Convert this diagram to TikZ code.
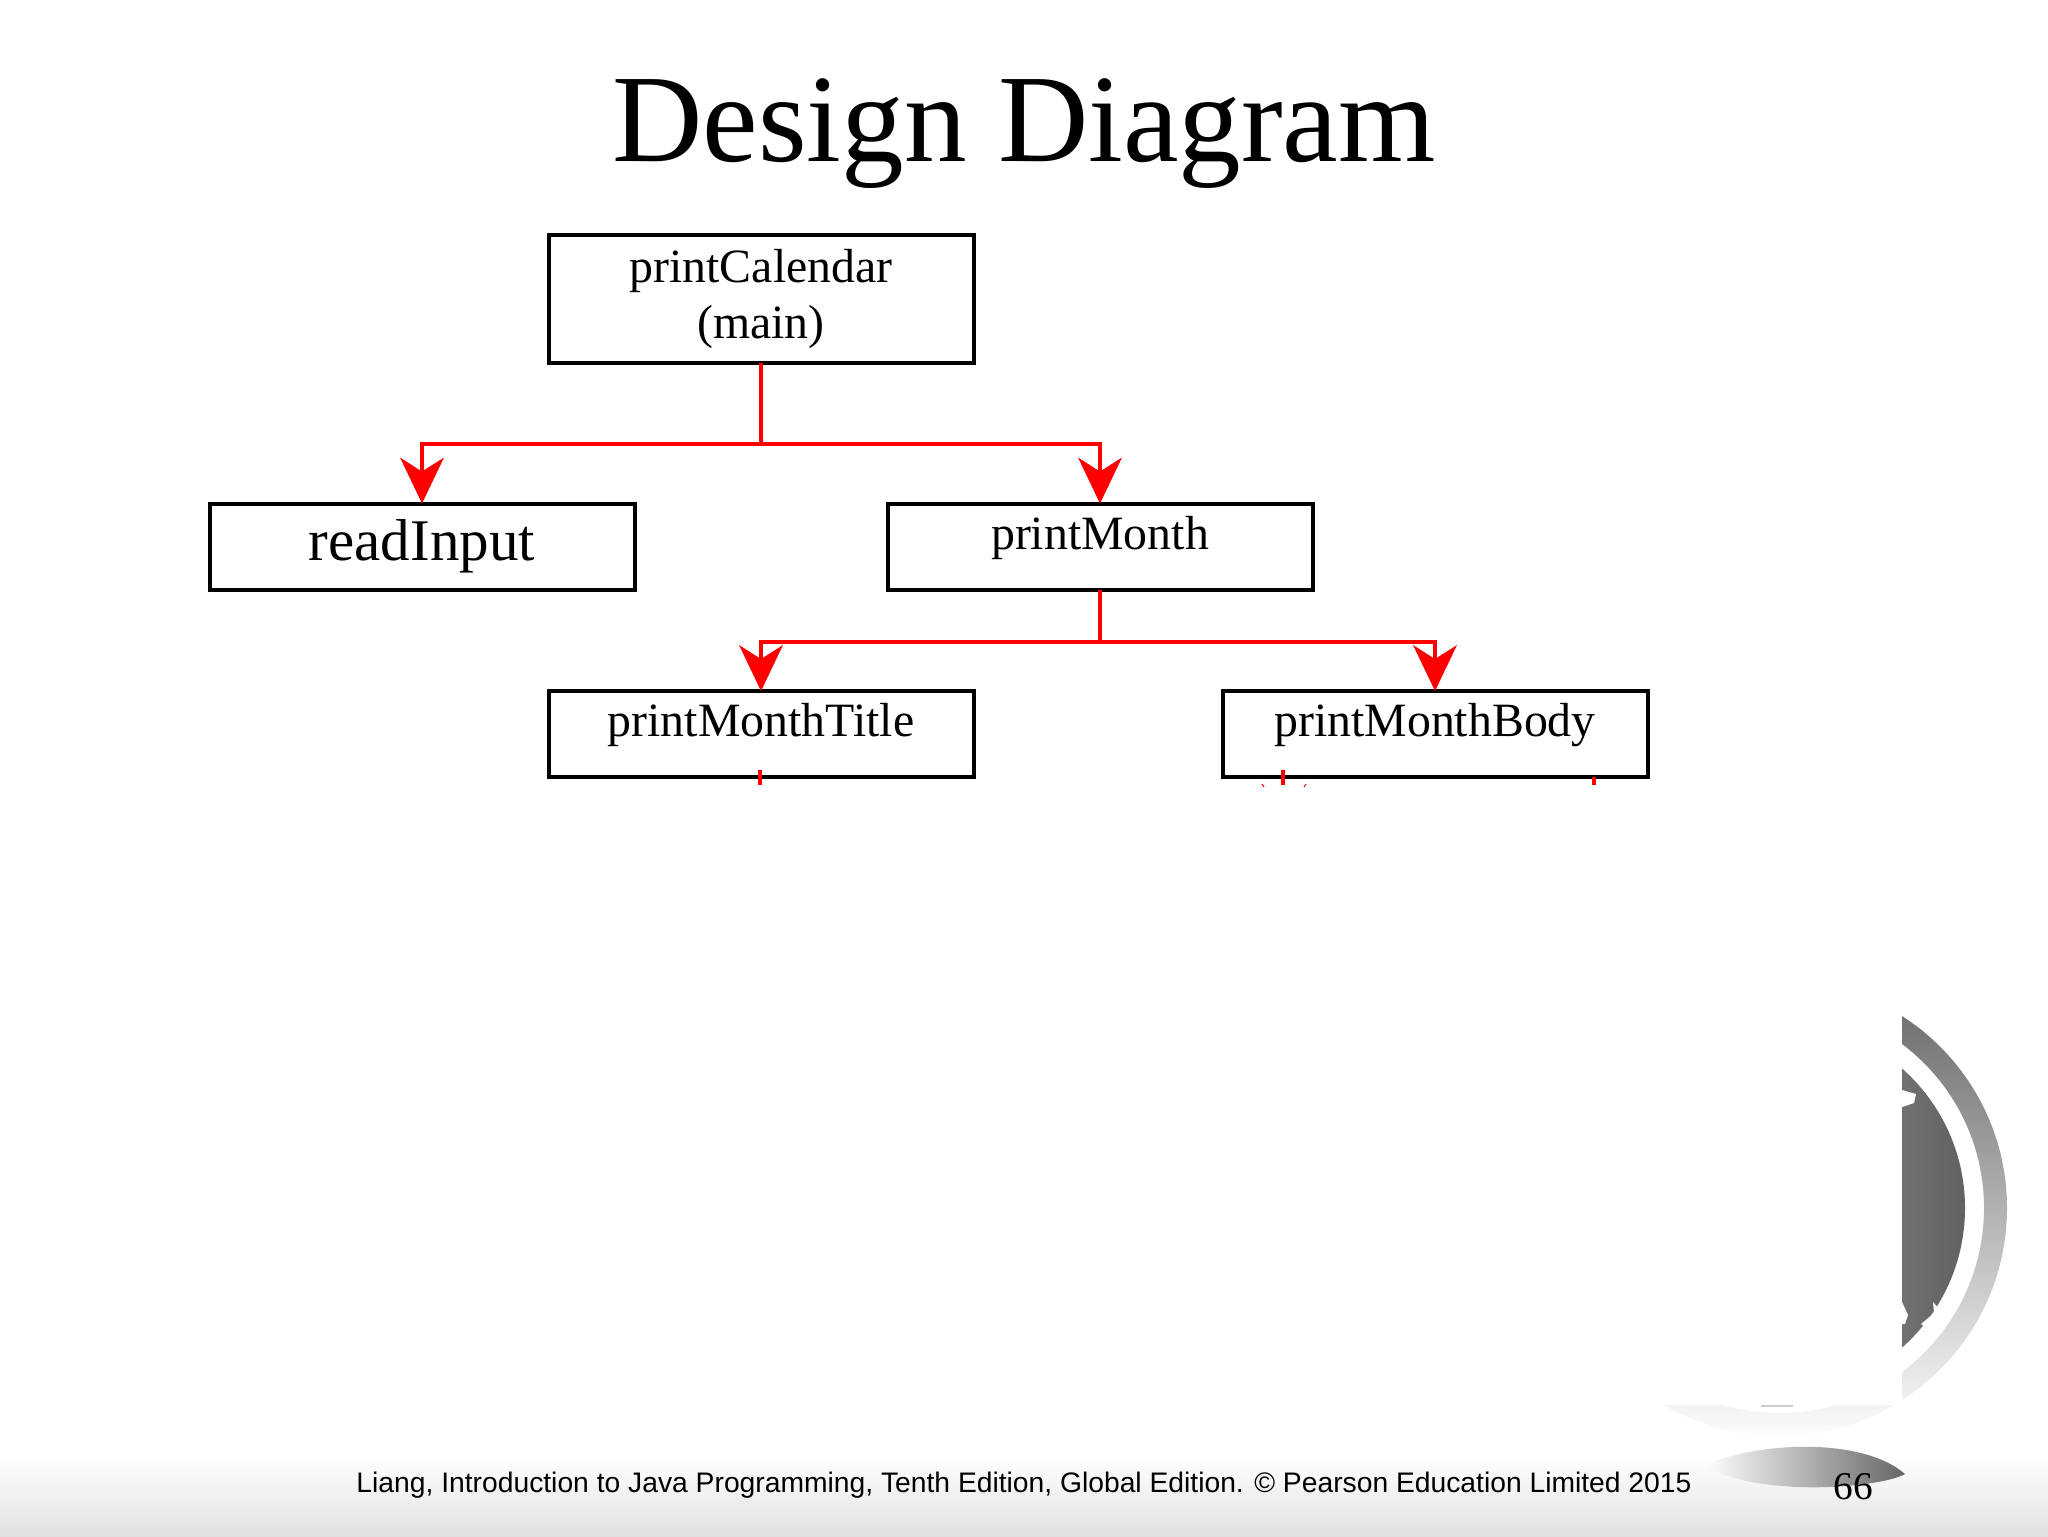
\documentclass[tikz,border=0pt]{standalone}
\usepackage{fontspec}
\setmainfont{Liberation Serif}
\newfontfamily\footerfont{Liberation Sans}
\usetikzlibrary{arrows.meta}

\definecolor{linkred}{RGB}{255,0,0}

\tikzset{
    methodbox/.style={draw, line width=0.4mm, minimum width=4.25cm, minimum height=0.86cm, inner sep=0pt, outer sep=0pt, align=center, font=\fontsize{13.6}{16}\selectfont},
    lowtext/.style={text height=3.5mm, text depth=3mm},
    link/.style={draw=linkred, line width=0.36mm},
    arrowlink/.style={link, -{Stealth[length=4.6mm, width=4.4mm, inset=1.4mm, line width=0pt]}}
}

\begin{document}
\begin{tikzpicture}[x=0.1mm, y=-0.1mm]
    \useasboundingbox (0, 0) rectangle (2048, 1536);
    \fill[white] (0, 0) rectangle (2048, 1536);

    % FOOTER BAND
    \shade[top color=white, bottom color=black!12, draw=none] (0, 1457) rectangle (2048, 1536);

    % GLOBE
    \begin{scope}
        \clip (1902, 980) -- (2048, 980) -- (2048, 1536) -- (1600, 1536) -- (1600, 1405) -- (1902, 1405) -- cycle;
        \shade[even odd rule, top color=black!60, middle color=black!30, bottom color=black!1]
            (1779, 1208) circle (228) (1779, 1208) circle (205);
    \end{scope}
    \begin{scope}
        \clip (1902, 980) rectangle (2048, 1405);
        \shade[left color=black!25, right color=black!62] (1779, 1208) circle (186);
    \end{scope}
    \fill[white] (1902, 1090) -- (1916, 1094) -- (1914, 1103) -- (1902, 1107) -- cycle;
    \fill[white] (1902, 1302) -- (1908, 1315) -- (1905, 1324) -- (1902, 1324) -- cycle;
    \fill[white] (1933, 1302) -- (1941, 1311) -- (1926, 1327) -- (1921, 1324) -- (1934, 1313) -- cycle;
    \fill[black!20] (1761, 1405) rectangle (1793, 1407);

    % SHADOW
    \shade[left color=white, right color=black!60] (1704, 1466) .. controls (1750, 1443) and (1860, 1435) .. (1905, 1474) .. controls (1880, 1488) and (1760, 1498) .. (1704, 1466) -- cycle;

    % TITLE
    \node (title) at (1024, 161) [anchor=base, font=\fontsize{35.6}{40}\selectfont] {Design Diagram};

    % BLOCKS
    \node (calendar) at (761, 299) [methodbox, minimum height=1.28cm] {printCalendar\\(main)};
    \node (input) at (422, 546.5) [methodbox, font=\fontsize{16.8}{20}\selectfont] {readInput};
    \node (month) at (1100, 546.5) [methodbox, lowtext] {printMonth};
    \node (monthtitle) at (761, 734) [methodbox, lowtext] {printMonthTitle};
    \node (monthbody) at (1435, 734) [methodbox, lowtext] {printMonthBody};

    % CONNEXIONS
    \coordinate (fork1) at (761, 444);
    \coordinate (fork2) at (1100, 642);
    \draw[link] (calendar.south) -- (fork1);
    \draw[arrowlink] (fork1) -| (input.north);
    \draw[arrowlink] (fork1) -| (month.north);
    \draw[link] (month.south) -- (fork2);
    \draw[arrowlink] (fork2) -| (monthtitle.north);
    \draw[arrowlink] (fork2) -| (monthbody.north);

    % CUT OFF CONNEXIONS
    \coordinate (stub1) at (760, 785);
    \coordinate (stub2) at (1283, 785);
    \coordinate (stub3) at (1594, 785);
    \draw[link] (monthtitle.south -| stub1) ++(0, -7) -- (stub1);
    \draw[link] (monthbody.south -| stub2) ++(0, -7) -- (stub2);
    \draw[link] (monthbody.south -| stub3) -- (stub3);
    \draw[linkred, line width=0.1mm] (1262, 784) -- (1264, 787);
    \draw[linkred, line width=0.1mm] (1306, 784) -- (1304, 787);

    % FOOTER
    \node (footer) at (1024, 1492.5) [anchor=base, font=\fontsize{8.04}{10}\footerfont\selectfont] {Liang, Introduction to Java Programming, Tenth Edition, Global Edition. \textcopyright{} Pearson Education Limited 2015};
    \node (pagenum) at (1853, 1499) [anchor=base, font=\fontsize{11.2}{13}\selectfont] {66};
\end{tikzpicture}
\end{document}
